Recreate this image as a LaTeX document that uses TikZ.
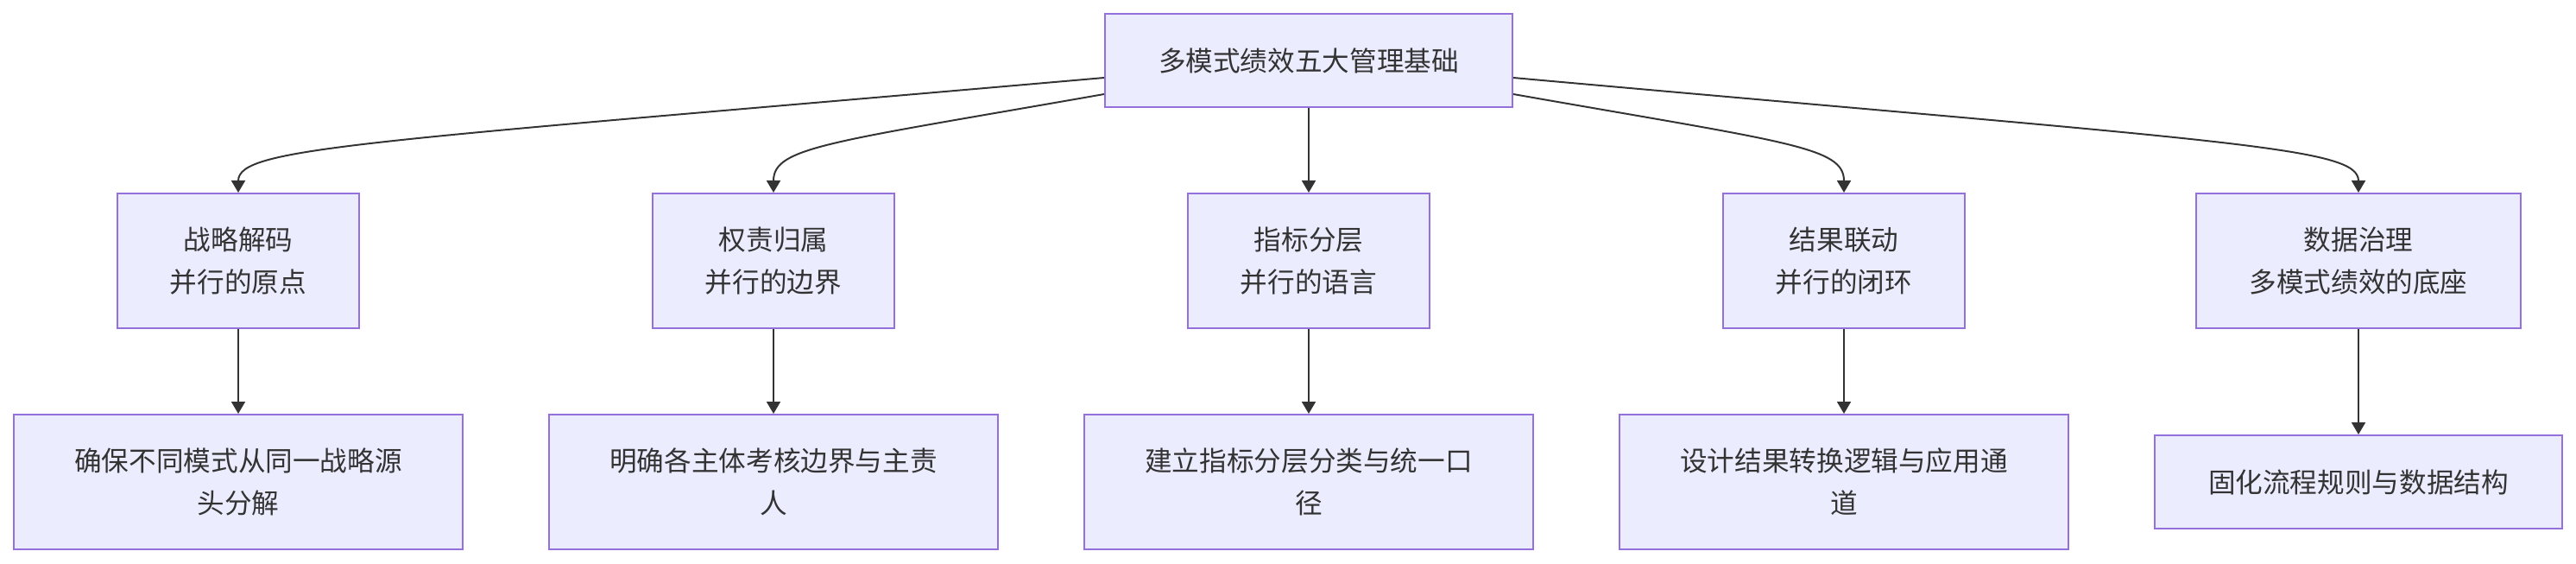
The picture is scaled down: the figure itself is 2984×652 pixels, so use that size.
\documentclass[tikz,border=0pt]{standalone}
\usepackage{fontspec}
\setmainfont{Noto Sans CJK SC}
\usepackage{tikz}
\usetikzlibrary{arrows.meta,positioning}
\definecolor{boxfill}{HTML}{ECECFF}
\definecolor{boxline}{HTML}{9370DB}
\definecolor{ink}{HTML}{333333}
\tikzset{
  box/.style={draw=boxline,fill=boxfill,line width=1.4pt,text=ink,align=center,inner sep=0pt},
  cat/.style={box,minimum width=7cm,minimum height=3.9cm},
  act/.style={box,minimum width=13cm,minimum height=3.9cm},
  arr/.style={draw=ink,line width=1.4pt,-{Triangle[length=0.35cm,width=0.4cm]}}
}
\begin{document}
\begin{tikzpicture}[x=0.025cm,y=-0.025cm,font=\fontsize{22.5}{35}\selectfont]
  \useasboundingbox (0,0) rectangle (2984,652);
  \node[box,minimum width=11.8cm,minimum height=2.7cm] (top) at (1516,70) {多模式绩效五大管理基础};
  \node[cat] (c1) at (276,302) {战略解码\\并行的原点};
  \node[cat] (c2) at (896,302) {权责归属\\并行的边界};
  \node[cat] (c3) at (1516,302) {指标分层\\并行的语言};
  \node[cat] (c4) at (2136,302) {结果联动\\并行的闭环};
  \node[cat,minimum width=9.4cm] (c5) at (2732,302) {数据治理\\多模式绩效的底座};
  \node[act] (a1) at (276,558) {确保不同模式从同一战略源\\头分解};
  \node[act] (a2) at (896,558) {明确各主体考核边界与主责\\人};
  \node[act] (a3) at (1516,558) {建立指标分层分类与统一口\\径};
  \node[act] (a4) at (2136,558) {设计结果转换逻辑与应用通\\道};
  \node[box,minimum width=11.8cm,minimum height=2.7cm] (a5) at (2732,558) {固化流程规则与数据结构};
  \draw[arr] ([yshift=-0.5cm]top.west) .. controls (420,165) and (276,170) .. (c1.north);
  \draw[arr] ([yshift=-0.975cm]top.west) .. controls (960,165) and (896,170) .. (c2.north);
  \draw[arr] (top) -- (c3);
  \draw[arr] ([yshift=-0.975cm]top.east) .. controls (2072,165) and (2136,170) .. (c4.north);
  \draw[arr] ([yshift=-0.5cm]top.east) .. controls (2590,165) and (2732,170) .. (c5.north);
  \foreach \i in {1,...,5} \draw[arr] (c\i) -- (a\i);
\end{tikzpicture}
\end{document}
